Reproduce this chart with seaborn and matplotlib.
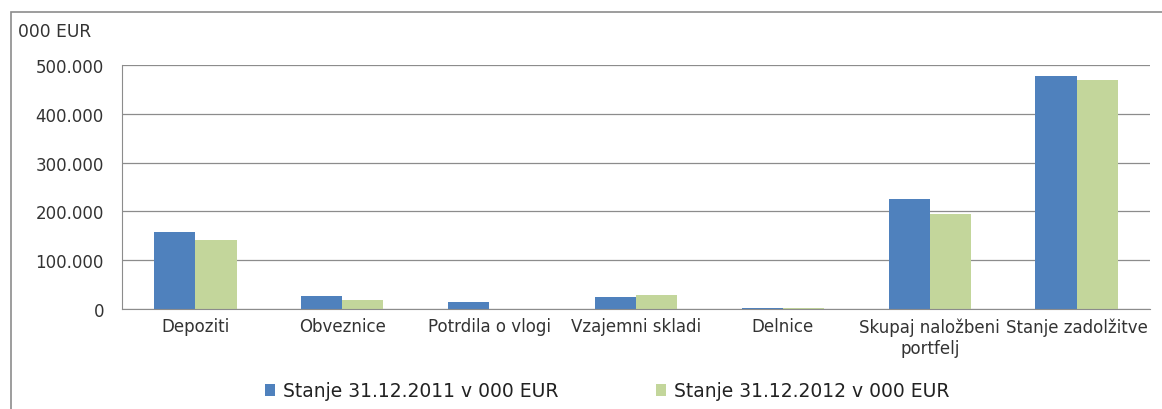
import pandas as pd
import seaborn as sns
import matplotlib.pyplot as plt
from matplotlib.patches import Rectangle
from matplotlib.ticker import FuncFormatter

categories = ['Depoziti', 'Obveznice', 'Potrdila o vlogi', 'Vzajemni skladi',
              'Delnice', 'Skupaj naložbeni\nportfelj', 'Stanje zadolžitve']
series = ['Stanje 31.12.2011 v 000 EUR', 'Stanje 31.12.2012 v 000 EUR']
values_2011 = [158000, 27000, 15000, 24000, 2500, 225000, 477000]
values_2012 = [141000, 19000, 1000, 28000, 2500, 194000, 469000]
colors = ['#4F81BD', '#C3D69B']

df = pd.DataFrame({
    'kategorija': categories * 2,
    'serija': [series[0]] * len(categories) + [series[1]] * len(categories),
    'vrednost': values_2011 + values_2012,
})

sns.set_style('white')
plt.rcParams['font.family'] = ['DejaVu Sans']

W, H = 1162, 410
fig = plt.figure(figsize=(W / 100, H / 100), dpi=100)
ax = fig.add_axes([122 / W, 1 - 310 / H, (1150 - 122) / W, (310 - 66) / H])

sns.barplot(data=df, x='kategorija', y='vrednost', hue='serija', palette=colors,
            width=0.56, saturation=1, linewidth=0, edgecolor='none', ax=ax, legend=True)

ax.set_ylim(0, 500000)
ax.set_yticks(range(0, 500001, 100000))
ax.yaxis.set_major_formatter(FuncFormatter(lambda v, p: f'{int(v):,}'.replace(',', '.')))
ax.set_xlim(-0.5, len(categories) - 0.5)
ax.grid(axis='y', color='#8c8c8c', linewidth=0.9)
ax.set_axisbelow(True)
for s in ['top', 'right']:
    ax.spines[s].set_visible(False)
ax.spines['left'].set_color('#8c8c8c')
ax.spines['bottom'].set_color('#8c8c8c')
ax.set_xlabel('')
ax.set_ylabel('')

# category boundary ticks below the axis
ax.set_xticks([i - 0.5 for i in range(len(categories) + 1)], minor=True)
ax.tick_params(axis='x', which='minor', length=5, color='#8c8c8c', direction='out')
ax.tick_params(axis='x', which='major', length=0, labelsize=12, pad=6, colors='#333333')
ax.tick_params(axis='y', length=5, color='#8c8c8c', labelsize=12, colors='#333333',
               direction='out', pad=8)
for lbl in ax.get_xticklabels():
    lbl.set_multialignment('center')

fig.text(18 / W, 1 - 32 / H, '000 EUR', fontsize=12.3, color='#333333', va='center')

handles, labels = ax.get_legend_handles_labels()
ax.legend_.remove()
fig.legend(handles, labels, loc='center', bbox_to_anchor=(607 / W, 1 - 392 / H),
           ncol=2, frameon=False, fontsize=13.5, handlelength=0.55, handleheight=0.55,
           columnspacing=5.2, handletextpad=0.4, labelcolor='#222222')

fig.patches.append(Rectangle((11 / W, -0.1), 1.2, 1 - 13 / H + 0.1, transform=fig.transFigure,
                             fill=False, edgecolor='#8c8c8c', linewidth=1.2))

fig.savefig('out.png', dpi=100)
